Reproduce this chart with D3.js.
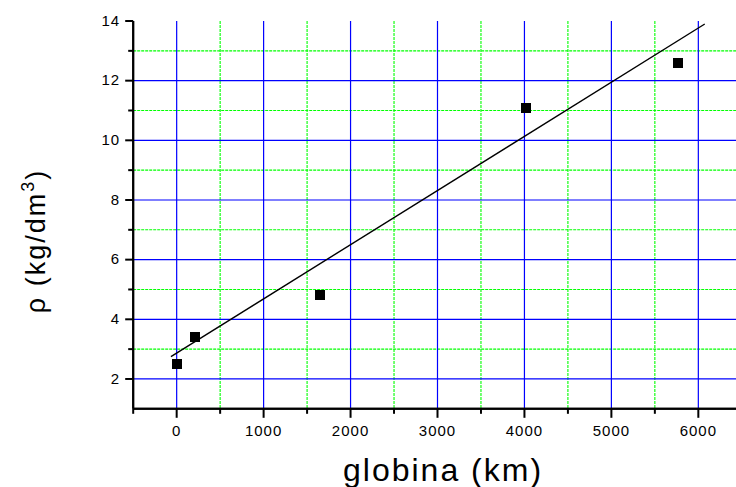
<!DOCTYPE html>
<html>
<head>
<meta charset="utf-8">
<script src="https://cdn.jsdelivr.net/npm/d3@7"></script>
<style>
  html, body { margin: 0; padding: 0; background: #fff; }
  svg { display: block; }
  text { font-family: "Liberation Sans", Arial, sans-serif; fill: #000; }
</style>
</head>
<body>
<div id="chart"></div>
<script>
// ---- data ----
const depthKm = [0, 210, 1654, 4020, 5763];
const density = [2.5, 3.4, 4.8, 11.1, 12.6];
const fitDepth = [-66, 6074];
const fitDensity = [2.75, 13.9];
const xMajorTicks = [0, 1000, 2000, 3000, 4000, 5000, 6000];
const xMinorTicks = [-500, 500, 1500, 2500, 3500, 4500, 5500, 6500];
const yMajorTicks = [2, 4, 6, 8, 10, 12, 14];
const yMinorTicks = [3, 5, 7, 9, 11, 13];
const xTitle = "globina (km)";

const W = 736, H = 487;
const svg = d3.select("#chart").append("svg").attr("width", W).attr("height", H);

const x = d3.scaleLinear().domain([-500, 6500]).range([133.2, 741.8]);
const y = d3.scaleLinear().domain([1, 14]).range([408.8, 21]);

// minor grid (green dotted)
const grid = svg.append("g");
grid.selectAll("line.gxm").data(xMinorTicks.filter(d => d > -500)).join("line")
  .attr("class", "gxm")
  .attr("x1", d => x(d)).attr("x2", d => x(d))
  .attr("y1", y(14)).attr("y2", y(1))
  .attr("stroke", "#00ff00").attr("stroke-width", 1.1).attr("stroke-dasharray", "3,1");
grid.selectAll("line.gym").data(yMinorTicks).join("line")
  .attr("class", "gym")
  .attr("x1", x(-500)).attr("x2", x(6500))
  .attr("y1", d => y(d)).attr("y2", d => y(d))
  .attr("stroke", "#00ff00").attr("stroke-width", 1.1).attr("stroke-dasharray", "3,1");
// major grid (blue)
grid.selectAll("line.gxM").data(xMajorTicks).join("line")
  .attr("class", "gxM")
  .attr("x1", d => x(d)).attr("x2", d => x(d))
  .attr("y1", y(14)).attr("y2", y(1))
  .attr("stroke", "#0000ff").attr("stroke-width", 1.2);
grid.selectAll("line.gyM").data(yMajorTicks.filter(d => d < 14)).join("line")
  .attr("class", "gyM")
  .attr("x1", x(-500)).attr("x2", x(6500))
  .attr("y1", d => y(d)).attr("y2", d => y(d))
  .attr("stroke", "#0000ff").attr("stroke-width", 1.2);

// fit line
svg.append("path")
  .datum(fitDepth.map((d, i) => [d, fitDensity[i]]))
  .attr("d", d3.line().x(d => x(d[0])).y(d => y(d[1])))
  .attr("fill", "none").attr("stroke", "#000").attr("stroke-width", 1.4);

// points
const sz = 10;
svg.selectAll("rect.pt").data(depthKm.map((d, i) => [d, density[i]])).join("rect")
  .attr("class", "pt")
  .attr("x", d => Math.round(x(d[0]) - sz / 2)).attr("y", d => Math.round(y(d[1]) - sz / 2))
  .attr("width", sz).attr("height", sz).attr("fill", "#000");

// axes
function styleAxis(g) {
  g.select(".domain").attr("stroke", "#000").attr("stroke-width", 2);
  g.selectAll(".tick line").attr("stroke", "#000").attr("stroke-width", 2);
  g.selectAll(".tick text").style("font-size", "15px").style("letter-spacing", "1px")
    .attr("fill", "#000");
}
const x0 = x(-500), y0 = y(1);
const xAxisG = svg.append("g").attr("transform", `translate(0,${y0})`)
  .call(d3.axisBottom(x).tickValues(xMajorTicks).tickSize(9).tickPadding(8)
    .tickFormat(d3.format("d")).tickSizeOuter(0).offset(0));
styleAxis(xAxisG);
const xMinorG = svg.append("g").attr("transform", `translate(0,${y0})`)
  .call(d3.axisBottom(x).tickValues(xMinorTicks).tickSize(5).tickFormat("").tickSizeOuter(0).offset(0));
styleAxis(xMinorG);

const yAxisG = svg.append("g").attr("transform", `translate(${x0},0)`)
  .call(d3.axisLeft(y).tickValues(yMajorTicks).tickSize(8).tickPadding(5)
    .tickFormat(d3.format("d")).tickSizeOuter(0).offset(0));
styleAxis(yAxisG);
const yMinorG = svg.append("g").attr("transform", `translate(${x0},0)`)
  .call(d3.axisLeft(y).tickValues(yMinorTicks).tickSize(5).tickFormat("").tickSizeOuter(0).offset(0));
styleAxis(yMinorG);

// titles
svg.append("text")
  .attr("x", 443).attr("y", 481)
  .attr("text-anchor", "middle")
  .style("font-size", "32px").style("letter-spacing", "2px")
  .text(xTitle);

const yt = svg.append("text")
  .attr("transform", "translate(45,241) rotate(-90)")
  .attr("text-anchor", "middle")
  .style("font-size", "27px").style("letter-spacing", "2px");
yt.append("tspan").text("ρ (kg/dm");
yt.append("tspan").attr("dy", "-11").style("font-size", "18px").text("3");
yt.append("tspan").attr("dy", "11").text(")");
</script>
</body>
</html>
